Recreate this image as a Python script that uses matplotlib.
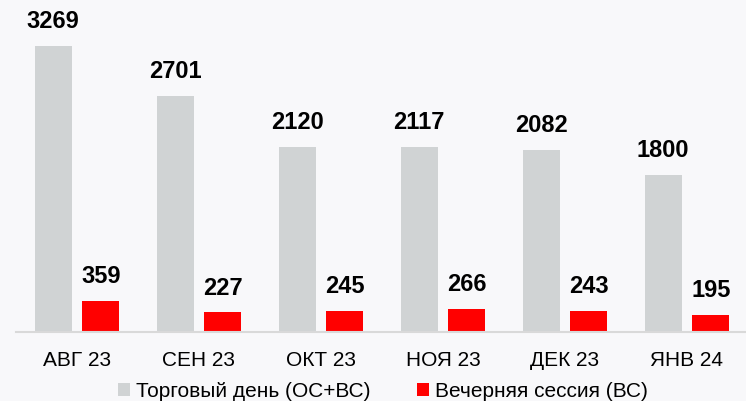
import matplotlib
matplotlib.use("Agg")
import matplotlib.pyplot as plt
import numpy as np

months = ["АВГ 23", "СЕН 23", "ОКТ 23", "НОЯ 23", "ДЕК 23", "ЯНВ 24"]
trade_day = [3269, 2701, 2120, 2117, 2082, 1800]
evening = [359, 227, 245, 266, 243, 195]

plt.rcParams['font.family'] = ['Liberation Sans', 'DejaVu Sans']

bg = "#F8F8FA"
grey = "#D0D3D4"
red = "#FF0000"

fig = plt.figure(figsize=(7.46, 4.02), dpi=100, facecolor=bg)
ax = fig.add_axes([16 / 746, 69 / 402, 732 / 746, 333 / 402])
ax.set_facecolor(bg)

x = np.arange(len(months))
w = 0.30
off = 0.195
b1 = ax.bar(x - off, trade_day, w, color=grey, label="Торговый день (ОС+ВС)")
b2 = ax.bar(x + off, evening, w, color=red, label="Вечерняя сессия (ВС)")

for bars, vals in ((b1, trade_day), (b2, evening)):
    for b, v in zip(bars, vals):
        ax.annotate(str(v), (b.get_x() + b.get_width() / 2, v),
                    xytext=(0, 18), textcoords="offset points",
                    ha="center", va="center", fontsize=17, fontweight="bold")

ax.set_xlim(-0.5, len(months) - 0.5)
ax.set_ylim(0, 3806)
ax.set_yticks([])
for s in ("top", "right", "left"):
    ax.spines[s].set_visible(False)
ax.spines["bottom"].set_color("#D9D9D9")
ax.spines["bottom"].set_linewidth(1.5)
ax.set_xticks(x)
ax.set_xticklabels(months, fontsize=15)
ax.tick_params(axis="x", length=0, pad=13)

fig.legend(loc="center", bbox_to_anchor=(383 / 746, 1 - 392 / 402), ncol=2,
           frameon=False, fontsize=15, handlelength=0.6, handleheight=0.6,
           handletextpad=0.3, columnspacing=2.2, borderaxespad=0)

fig.savefig("out.png", dpi=100, facecolor=bg)
